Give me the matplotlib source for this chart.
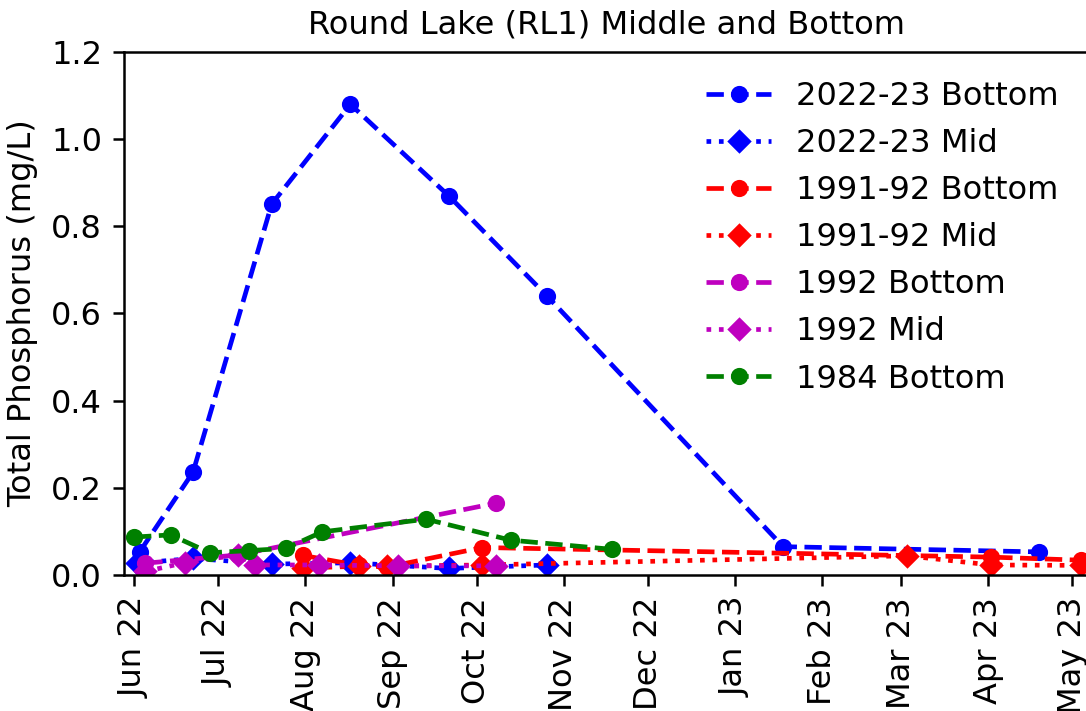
import numpy as np
import pandas as pd
from matplotlib import pyplot as plt
import matplotlib.dates as mdates

# Round Lake RL1 total phosphorus, older years shifted onto the 2022-23 calendar
bot_2223_dates = ["2022-06-03", "2022-06-22", "2022-07-20", "2022-08-17", "2022-09-21",
                  "2022-10-26", "2023-01-18", "2023-04-19"]
bot_2223_tp = [0.053, 0.236, 0.851, 1.08, 0.87, 0.64, 0.065, 0.053]

mid_2223_dates = ["2022-06-02", "2022-06-22", "2022-07-20", "2022-08-17", "2022-09-21", "2022-10-26"]
mid_2223_tp = [0.027, 0.038, 0.025, 0.028, 0.015, 0.023]

bot_9192_dates = ["2022-07-31", "2022-08-20", "2022-08-30", "2022-10-03", "2023-04-02", "2023-05-04"]
bot_9192_tp = [0.045, 0.022, 0.018, 0.063, 0.041, 0.034]

mid_9192_dates = ["2022-07-31", "2022-08-20", "2022-08-30", "2022-10-03", "2023-03-03",
                  "2023-04-02", "2023-05-04"]
mid_9192_tp = [0.016, 0.020, 0.020, 0.023, 0.044, 0.023, 0.022]

bot_92_dates = ["2022-06-05", "2022-07-08", "2022-10-08"]
bot_92_tp = [0.027, 0.046, 0.165]

mid_92_dates = ["2022-06-05", "2022-06-19", "2022-07-08", "2022-07-14", "2022-08-06",
                "2022-09-03", "2022-10-08"]
mid_92_tp = [0.008, 0.028, 0.046, 0.023, 0.023, 0.021, 0.021]

bot_84_dates = ["2022-06-01", "2022-06-14", "2022-06-28", "2022-07-12", "2022-07-25",
                "2022-08-07", "2022-09-13", "2022-10-13", "2022-11-18"]
bot_84_tp = [0.087, 0.092, 0.051, 0.056, 0.061, 0.099, 0.128, 0.080, 0.059]

plt.rcParams['font.size'] = 10.3

fig = plt.figure(figsize=(1086 / 225, 711 / 225), dpi=225)
ax = fig.add_axes([0.1142, 0.1913, 0.8877, 0.7356])

lw, ms = 1.5, 4.5
ax.plot(pd.to_datetime(bot_2223_dates), bot_2223_tp, 'b--', marker='o', lw=lw, ms=ms, label="2022-23 Bottom")
ax.plot(pd.to_datetime(mid_2223_dates), mid_2223_tp, 'b:', marker='D', lw=lw, ms=ms, label="2022-23 Mid")
ax.plot(pd.to_datetime(bot_9192_dates), bot_9192_tp, 'r--', marker='o', lw=lw, ms=ms, label="1991-92 Bottom")
ax.plot(pd.to_datetime(mid_9192_dates), mid_9192_tp, 'r:', marker='D', lw=lw, ms=ms, label="1991-92 Mid")
ax.plot(pd.to_datetime(bot_92_dates), bot_92_tp, 'm--', marker='o', lw=lw, ms=ms, label="1992 Bottom")
ax.plot(pd.to_datetime(mid_92_dates), mid_92_tp, 'm:', marker='D', lw=lw, ms=ms, label="1992 Mid")
ax.plot(pd.to_datetime(bot_84_dates), bot_84_tp, 'g--', marker='o', lw=lw, ms=ms, label="1984 Bottom")

ax.set_xlim(pd.Timestamp("2022-05-28 10:30"), pd.Timestamp("2023-05-06 13:00"))
ax.set_ylim(0, 1.2)
ax.set_yticks(np.arange(0, 1.21, 0.2))
ax.xaxis.set_major_locator(mdates.MonthLocator())
ax.xaxis.set_major_formatter(mdates.DateFormatter('%b %y'))
plt.setp(ax.get_xticklabels(), rotation=90)

ax.set_ylabel("Total Phosphorus (mg/L)")
ax.set_title("Round Lake (RL1) Middle and Bottom", fontsize=10.3)
ax.legend(loc='upper right', frameon=False, fontsize=10.3)

plt.savefig("out.png", dpi=225)
